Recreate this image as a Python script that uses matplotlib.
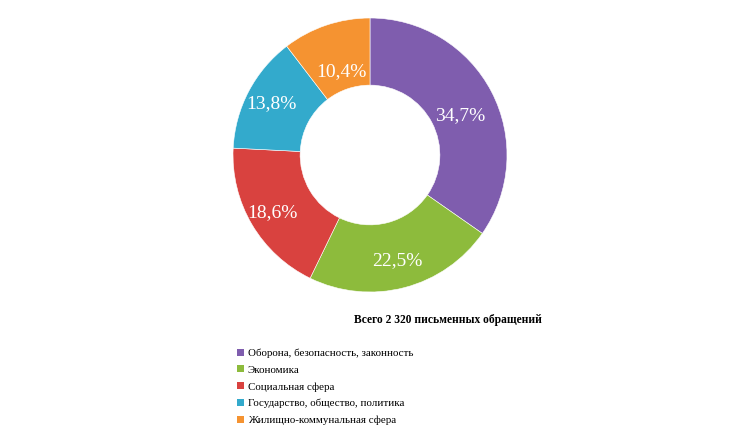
import numpy as np
import matplotlib.pyplot as plt
from matplotlib.patches import Patch

# Данные
categories = [
    'Оборона, безопасность, законность',
    'Экономика',
    'Социальная сфера',
    'Государство, общество, политика',
    'Жилищно-коммунальная сфера',
]
shares = [34.7, 22.5, 18.6, 13.8, 10.4]
labels = ['34,7%', '22,5%', '18,6%', '13,8%', '10,4%']
colors = ['#7F5DAE', '#8DBB3C', '#D9423F', '#33AACC', '#F59331']
title = 'Всего 2 320 письменных обращений'

# Расстояние подписей от центра (доля радиуса)
label_r = [0.72, 0.80, 0.83, 0.81, 0.64]

plt.rcParams['font.family'] = ['Liberation Serif', 'DejaVu Serif']

W, H = 735, 441
fig = plt.figure(figsize=(W / 100, H / 100), dpi=100)

# Кольцевая диаграмма
cx, cy, r = 370, 155, 137
ax = fig.add_axes([(cx - r) / W, (H - cy - r) / H, 2 * r / W, 2 * r / H])
wedges, _ = ax.pie(shares, colors=colors, startangle=90, counterclock=False,
                   radius=1.0, wedgeprops=dict(width=0.49, edgecolor='white', linewidth=0.4))
ax.set_xlim(-1, 1)
ax.set_ylim(-1, 1)
ax.set_aspect('equal')
ax.axis('off')

# Подписи процентов внутри сегментов
start = 90.0
for val, lab, rr in zip(shares, labels, label_r):
    mid = start - val * 3.6 / 2
    start -= val * 3.6
    if lab == '34,7%':
        mid -= 4
    ax.text(rr * np.cos(np.radians(mid)), rr * np.sin(np.radians(mid)), lab,
            ha='center', va='center', color='white', fontsize=14)

# Заголовок
fig.text(448 / W, 1 - 320 / H, title, ha='center', va='center',
         fontsize=8.3, fontweight='bold')

# Легенда
handles = [Patch(facecolor=c, edgecolor='none') for c in colors]
fig.legend(handles, categories, loc='upper left',
           bbox_to_anchor=(232 / W, 1 - 343 / H), frameon=False,
           fontsize=7.9, handlelength=0.6, handleheight=0.6,
           handletextpad=0.35, labelspacing=0.67, borderpad=0)

fig.savefig('out.png', dpi=100)
